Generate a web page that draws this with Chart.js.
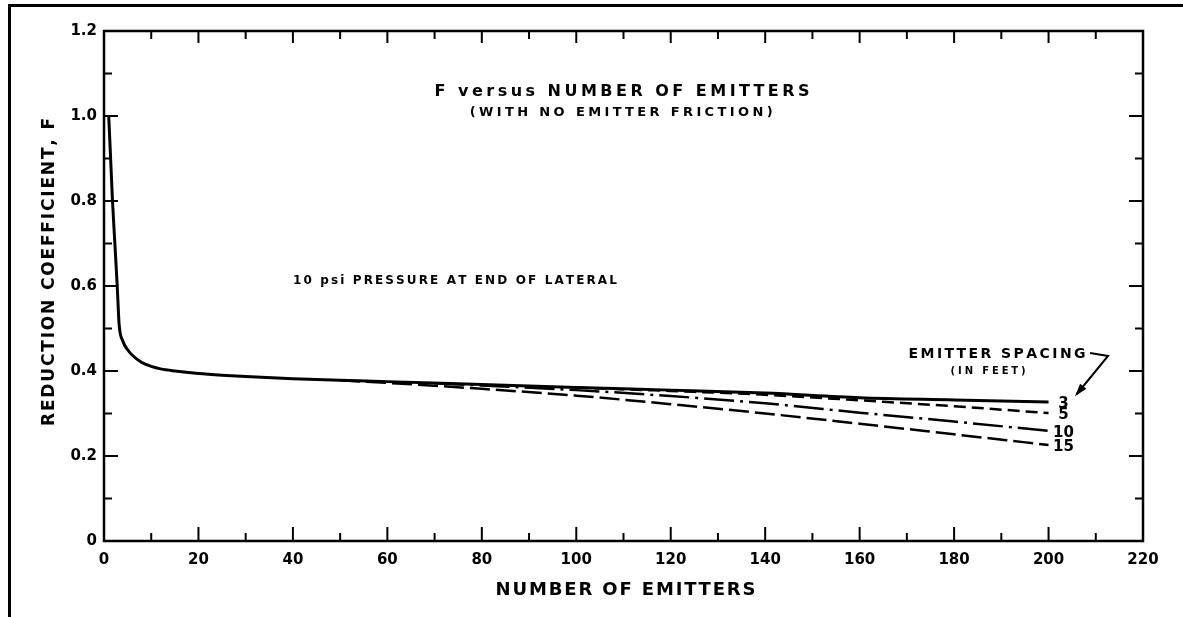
<!DOCTYPE html>
<html>
<head>
<meta charset="utf-8">
<script src="https://cdn.jsdelivr.net/npm/chart.js@4.4.1/dist/chart.umd.min.js"></script>
<style>
  body { margin: 0; background: #fff; }
  #wrap { position: relative; width: 1183px; height: 617px; overflow: hidden; }
  #frame { position: absolute; left: 8px; top: 4px; right: 0; bottom: 0; border-top: 3px solid #000; border-left: 3px solid #000; }
  canvas { position: absolute; left: 0; top: 0; }
</style>
</head>
<body>
<div id="wrap"><div id="frame"></div><canvas id="myChart" width="1183" height="617"></canvas></div>
<script>
// number of emitters vs reduction coefficient F
const emitters3 = [1, 1.4, 1.8, 2.3, 2.8, 3.2, 4, 5, 6, 8, 10, 12, 15, 20, 25, 30, 40, 50, 60, 80, 100, 120, 140, 160, 180, 200]
const spacing3 = [1.0, 0.9, 0.8, 0.7, 0.6, 0.51, 0.47, 0.45, 0.437, 0.42, 0.411, 0.405, 0.4, 0.394, 0.39, 0.387, 0.382, 0.378, 0.375, 0.368, 0.361, 0.355, 0.348, 0.337, 0.332, 0.327]

const emitters5 = [100, 120, 140, 160, 180, 200]
const spacing5 = [0.361, 0.353, 0.344, 0.331, 0.317, 0.301]

const emitters10 = [70, 80, 100, 120, 140, 160, 180, 200]
const spacing10 = [0.371, 0.366, 0.355, 0.341, 0.324, 0.302, 0.281, 0.259]

const emitters15 = [50, 60, 80, 100, 120, 140, 160, 180, 200]
const spacing15 = [0.378, 0.372, 0.358, 0.342, 0.322, 0.3, 0.276, 0.251, 0.226]

const xTicks = [0, 20, 40, 60, 80, 100, 120, 140, 160, 180, 200, 220]
const xMinor = [10, 30, 50, 70, 90, 110, 130, 150, 170, 190, 210]
const yTicks = [0, 0.2, 0.4, 0.6, 0.8, 1.0, 1.2]
const yMinor = [0.1, 0.3, 0.5, 0.7, 0.9, 1.1]

const pts = (xs, ys) => xs.map((n, i) => ({x: n, y: ys[i]}))

const FONT = '"DejaVu Sans", sans-serif'

// draws text spread out to a given width, like the old lettering
function spaced(ctx, text, cx, cy, width) {
  const chars = [...text]
  const ws = chars.map(c => ctx.measureText(c).width)
  const total = ws.reduce((a, b) => a + b, 0)
  const gap = (width - total) / (chars.length - 1)
  let xx = cx - width / 2
  chars.forEach((c, i) => { ctx.fillText(c, xx, cy); xx += ws[i] + gap })
}

const ink = {
  id: 'ink',
  afterDatasetsDraw(chart) {
    const {ctx, chartArea: a, scales: {x, y}} = chart
    const P = (xv, yv) => [x.getPixelForValue(xv), y.getPixelForValue(yv)]
    ctx.save()
    ctx.strokeStyle = '#000'
    ctx.fillStyle = '#000'

    // plot box
    ctx.lineWidth = 2.5
    ctx.strokeRect(a.left, a.top, a.right - a.left, a.bottom - a.top)

    // ticks pointing inward
    ctx.lineWidth = 2
    const seg = (x1, y1, x2, y2) => { ctx.beginPath(); ctx.moveTo(x1, y1); ctx.lineTo(x2, y2); ctx.stroke() }
    xTicks.forEach(v => { const p = x.getPixelForValue(v); seg(p, a.bottom, p, a.bottom - 14); seg(p, a.top, p, a.top + 12) })
    xMinor.forEach(v => { const p = x.getPixelForValue(v); seg(p, a.bottom, p, a.bottom - 8); seg(p, a.top, p, a.top + 8) })
    yTicks.forEach(v => { const p = y.getPixelForValue(v); seg(a.left, p, a.left + 14, p); seg(a.right, p, a.right - 14, p) })
    yMinor.forEach(v => { const p = y.getPixelForValue(v); seg(a.left, p, a.left + 8, p); seg(a.right, p, a.right - 8, p) })

    // axis titles
    ctx.textBaseline = 'middle'
    ctx.textAlign = 'left'
    ctx.font = 'bold 18px ' + FONT
    spaced(ctx, 'NUMBER OF EMITTERS', (a.left + a.right) / 2 + 2, a.bottom + 49, 260)
    ctx.save()
    ctx.translate(50, a.top + 241)
    ctx.rotate(-Math.PI / 2)
    ctx.font = 'bold 17px ' + FONT
    spaced(ctx, 'REDUCTION COEFFICIENT, F', 0, 0, 308)
    ctx.restore()

    // lettering
    ctx.font = 'bold 16px ' + FONT
    spaced(ctx, 'F versus NUMBER OF EMITTERS', ...P(109.7, 1.056), 375)
    ctx.font = 'bold 13px ' + FONT
    spaced(ctx, '(WITH NO EMITTER FRICTION)', ...P(109.5, 1.007), 303)
    ctx.font = 'bold 12px ' + FONT
    spaced(ctx, '10 psi PRESSURE AT END OF LATERAL', ...P(74.3, 0.612), 324)
    ctx.font = 'bold 14px ' + FONT
    spaced(ctx, 'EMITTER SPACING', ...P(189.1, 0.438), 177)
    ctx.font = 'bold 10px ' + FONT
    spaced(ctx, '(IN FEET)', ...P(187.2, 0.398), 75)

    // series labels at the line ends
    ctx.font = 'bold 15px ' + FONT
    ctx.textAlign = 'center'
    const ends = [['3', spacing3], ['5', spacing5], ['10', spacing10], ['15', spacing15]]
    ends.forEach(([t, ys]) => {
      const [px, py] = P(200, ys[ys.length - 1])
      ctx.fillText(t, px + 15, py + 2)
    })

    // arrow from the label down to the line ends
    const [t1x, t1y] = P(208.8, 0.4424)
    const [t2x, t2y] = P(212.6, 0.4353)
    const [hx, hy] = P(206.0, 0.3459)
    ctx.lineWidth = 2
    ctx.beginPath(); ctx.moveTo(t1x, t1y); ctx.lineTo(t2x, t2y); ctx.lineTo(hx, hy); ctx.stroke()
    const ang = Math.atan2(hy - t2y, hx - t2x)
    ctx.beginPath()
    ctx.moveTo(hx + 3 * Math.cos(ang), hy + 3 * Math.sin(ang))
    ctx.lineTo(hx - 10 * Math.cos(ang) + 4 * Math.sin(ang), hy - 10 * Math.sin(ang) - 4 * Math.cos(ang))
    ctx.lineTo(hx - 10 * Math.cos(ang) - 4 * Math.sin(ang), hy - 10 * Math.sin(ang) + 4 * Math.cos(ang))
    ctx.closePath(); ctx.fill()
    ctx.restore()
  }
}

const line = (label, data, width, dash) => ({
  label, data,
  borderColor: '#000', borderWidth: width, borderDash: dash,
  pointRadius: 0, fill: false, cubicInterpolationMode: 'monotone'
})

var ctx = document.getElementById('myChart').getContext('2d');
var chart = new Chart(ctx, {
  type: 'line',
  data: {
    datasets: [
      line('3', pts(emitters3, spacing3), 3, []),
      line('5', pts(emitters5, spacing5), 2.5, [12, 6]),
      line('10', pts(emitters10, spacing10), 2.5, [30, 6, 3, 6]),
      line('15', pts(emitters15, spacing15), 2.5, [20, 6])
    ]
  },
  options: {
    responsive: false,
    animation: false,
    layout: { padding: { top: 31, right: 40, left: 0, bottom: 0 } },
    plugins: { legend: { display: false }, tooltip: { enabled: false } },
    scales: {
      x: {
        type: 'linear', min: 0, max: 220,
        afterBuildTicks: s => { s.ticks = xTicks.map(v => ({value: v})) },
        afterFit: s => { s.height = 76 },
        grid: { display: false, drawTicks: false },
        border: { display: false },
        ticks: { color: '#000', padding: 10, maxRotation: 0, autoSkip: false, font: { family: FONT, size: 15, weight: 'bold' } }
      },
      y: {
        type: 'linear', min: 0, max: 1.2,
        afterBuildTicks: s => { s.ticks = yTicks.map(v => ({value: v})) },
        afterFit: s => { s.width = 104 },
        grid: { display: false, drawTicks: false },
        border: { display: false },
        ticks: {
          color: '#000', padding: 7, autoSkip: false,
          font: { family: FONT, size: 15, weight: 'bold' },
          callback: v => v === 0 ? '0' : v.toFixed(1)
        }
      }
    }
  },
  plugins: [ink]
});
</script>
</body>
</html>
